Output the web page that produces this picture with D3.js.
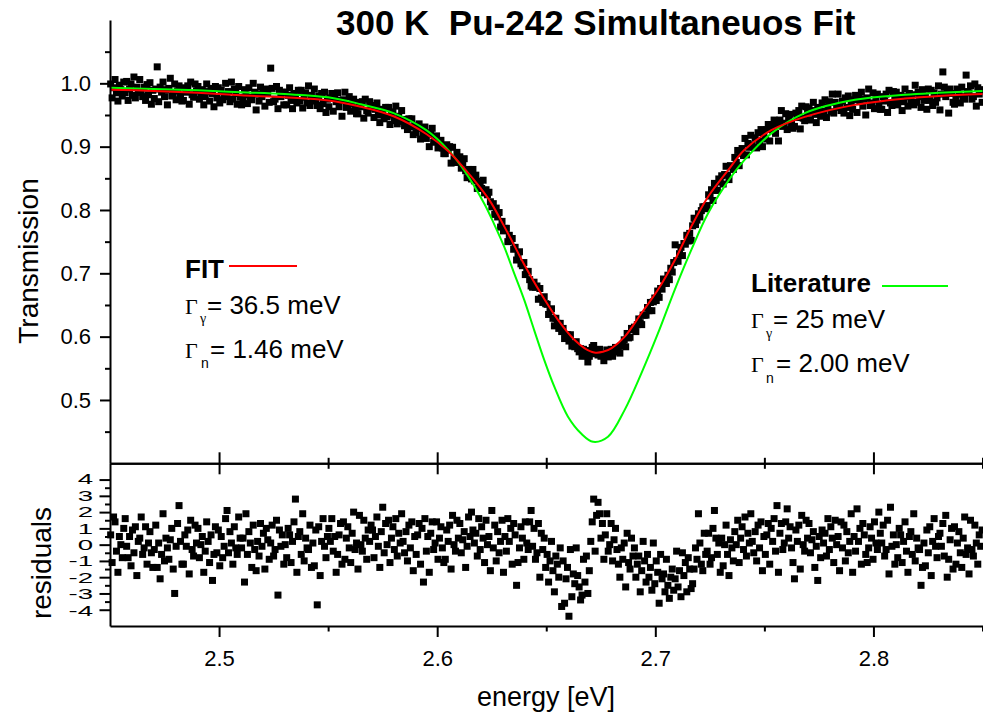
<!DOCTYPE html>
<html>
<head>
<meta charset="utf-8">
<script src="https://cdn.jsdelivr.net/npm/d3@7"></script>
<style>
  body { margin: 0; background: #fff; }
  svg { display: block; }
</style>
</head>
<body>
<script>
var width = 983;
var height = 716;

// axis ticks
var xTicks = [2.5, 2.6, 2.7, 2.8];
var xMinor = [2.55, 2.65, 2.75, 2.85];
var tTicks = [0.5, 0.6, 0.7, 0.8, 0.9, 1.0];
var tMinor = [0.45, 0.55, 0.65, 0.75, 0.85, 0.95, 1.05];
var rTicks = [4, 3, 2, 1, 0, -1, -2, -3, -4];
var rMinor = [3.5, 2.5, 1.5, 0.5, -0.5, -1.5, -2.5, -3.5];

// measured channels: energy grid start and step (eV)
var E0 = 2.4503;
var dE = 0.000667;

// measured transmission, one value per channel
var transmission = [
  0.999,0.977,0.993,1.006,0.985,0.972,0.997,0.990,0.980,1.002,
  0.985,1.003,0.973,0.991,0.999,0.981,1.010,0.977,0.994,0.986,
  1.006,0.986,0.979,0.994,0.973,0.998,0.982,1.001,0.967,0.989,
  0.976,0.991,1.026,0.971,0.994,0.986,1.002,0.979,0.990,0.966,
  0.992,1.008,0.980,0.984,0.999,0.974,0.988,0.996,0.981,0.972,
  0.973,0.993,0.986,0.996,0.967,1.002,0.982,0.978,0.999,0.988,
  0.995,0.975,0.984,0.990,0.966,0.979,0.999,0.987,0.972,0.992,
  0.984,0.963,0.995,0.977,0.993,0.969,0.989,0.974,0.981,1.000,
  0.979,0.987,0.971,1.002,0.975,0.991,0.984,0.967,0.995,0.978,
  0.966,0.975,0.990,0.982,0.968,0.993,0.978,0.974,1.000,0.986,
  0.958,0.983,0.972,0.994,0.979,0.987,0.964,0.991,0.984,0.970,
  1.024,0.992,0.971,0.975,0.995,0.960,0.989,0.979,0.986,0.966,
  0.986,0.966,0.981,0.993,0.973,0.960,0.984,0.978,0.969,0.989,
  0.972,0.989,0.961,0.978,0.985,0.969,0.996,0.965,0.981,0.973,
  0.991,0.972,0.965,0.980,0.960,0.984,0.968,0.986,0.954,0.975,
  0.963,0.977,0.984,0.956,0.979,0.971,0.985,0.963,0.973,0.948,
  0.974,0.986,0.962,0.965,0.979,0.956,0.968,0.975,0.961,0.952,
  0.952,0.970,0.963,0.971,0.945,0.975,0.957,0.953,0.971,0.961,
  0.965,0.946,0.959,0.969,0.950,0.938,0.959,0.953,0.944,0.962,
  0.947,0.962,0.935,0.950,0.955,0.941,0.964,0.936,0.948,0.941,
  0.957,0.940,0.933,0.943,0.927,0.944,0.931,0.944,0.919,0.933,
  0.922,0.932,0.936,0.912,0.929,0.922,0.931,0.913,0.922,0.900,
  0.920,0.929,0.907,0.909,0.917,0.898,0.906,0.910,0.898,0.889,
  0.889,0.903,0.895,0.900,0.874,0.899,0.881,0.875,0.891,0.879,
  0.884,0.866,0.874,0.881,0.862,0.851,0.864,0.856,0.849,0.864,
  0.846,0.855,0.834,0.842,0.845,0.834,0.847,0.827,0.832,0.824,
  0.828,0.813,0.805,0.810,0.793,0.803,0.789,0.796,0.773,0.782,
  0.767,0.771,0.771,0.750,0.760,0.751,0.755,0.738,0.741,0.721,
  0.730,0.734,0.715,0.712,0.717,0.698,0.703,0.703,0.690,0.680,
  0.678,0.686,0.678,0.680,0.659,0.676,0.661,0.654,0.663,0.652,
  0.651,0.635,0.641,0.644,0.629,0.617,0.629,0.621,0.613,0.621,
  0.608,0.613,0.597,0.602,0.603,0.593,0.603,0.585,0.589,0.584,
  0.592,0.581,0.576,0.581,0.569,0.580,0.570,0.578,0.560,0.569,
  0.577,0.583,0.586,0.573,0.575,0.571,0.580,0.569,0.573,0.562,
  0.571,0.579,0.568,0.571,0.580,0.569,0.577,0.583,0.578,0.576,
  0.574,0.586,0.587,0.595,0.584,0.605,0.598,0.599,0.613,0.611,
  0.615,0.608,0.619,0.628,0.622,0.619,0.634,0.634,0.634,0.646,
  0.641,0.654,0.641,0.655,0.661,0.657,0.672,0.662,0.676,0.675,
  0.691,0.684,0.684,0.697,0.690,0.708,0.702,0.717,0.745,0.720,
  0.719,0.731,0.741,0.728,0.747,0.746,0.760,0.751,0.763,0.752,
  0.775,0.787,0.777,0.784,0.794,0.789,0.799,0.805,0.805,0.802,
  0.807,0.824,0.822,0.832,0.815,0.842,0.831,0.831,0.849,0.844,
  0.854,0.841,0.856,0.869,0.855,0.848,0.870,0.868,0.864,0.883,
  0.875,0.894,0.870,0.889,0.897,0.886,0.913,0.887,0.905,0.899,
  0.918,0.903,0.899,0.914,0.898,0.922,0.909,0.927,0.900,0.921,
  0.912,0.927,0.935,0.909,0.933,0.926,0.942,0.921,0.933,0.909,
  0.942,0.957,0.932,0.937,0.952,0.927,0.942,0.951,0.936,0.929,
  0.932,0.953,0.946,0.957,0.928,0.964,0.945,0.941,0.963,0.953,
  0.961,0.942,0.957,0.970,0.951,0.938,0.962,0.956,0.948,0.969,
  0.956,0.974,0.946,0.963,0.971,0.955,0.983,0.953,0.970,0.962,
  0.983,0.964,0.957,0.972,0.953,0.977,0.962,0.980,0.949,0.970,
  0.959,0.974,0.981,0.954,0.978,0.971,0.986,0.964,0.975,0.950,
  0.977,0.991,0.965,0.969,0.985,0.960,0.974,0.983,0.967,0.959,
  0.959,0.979,0.972,0.983,0.954,0.989,0.969,0.965,0.987,0.976,
  0.986,0.966,0.975,0.981,0.957,0.971,0.991,0.979,0.964,0.984,
  0.974,0.982,0.966,0.997,0.970,0.986,0.979,0.962,0.990,0.973,
  0.980,0.959,0.991,0.973,0.989,0.965,0.985,0.970,0.977,0.996,
  0.958,0.983,1.018,0.994,0.979,0.987,0.953,0.991,0.984,0.970,
  0.967,0.976,0.991,0.983,0.969,0.994,0.979,0.975,1.013,0.987,
  0.985,0.996,0.975,0.979,0.999,0.964,0.993,0.983,0.990,0.970
];

// normalised residuals, same channels
var residuals = [
  0.6,-1.1,1.7,1.4,-0.4,-1.7,0.5,0.0,-0.8,1.0,
  1.6,-0.1,-0.8,0.5,-1.3,0.9,-0.5,1.1,-1.9,0.2,
  0.4,1.7,-0.6,-0.2,1.1,-1.2,0.1,0.8,-0.5,-1.4,
  -0.3,1.2,-1.4,0.1,-2.1,-0.6,1.9,-1.0,0.4,-0.2,
  -0.9,0.3,1.0,-1.5,-3.0,-0.1,1.3,2.4,0.2,-1.2,
  -1.2,0.6,-0.1,0.9,-1.8,1.5,-0.3,-0.7,1.2,0.1,
  1.0,-0.8,0.0,0.5,-1.7,-0.4,1.4,0.2,-1.1,0.6,
  -2.2,-0.6,1.1,-0.5,0.9,-1.3,0.5,-0.8,-0.1,1.6,
  2.1,-0.5,0.8,0.1,-1.2,1.1,-0.2,-0.6,1.7,0.4,
  -0.2,0.4,-2.3,1.9,-0.6,0.8,0.1,-1.4,1.2,-0.3,
  -1.6,0.2,-0.7,1.3,-0.1,0.7,-1.5,1.0,0.3,-0.9,
  0.1,1.2,-0.7,-0.3,1.5,-3.1,0.9,-0.1,0.6,-1.2,
  0.0,-0.8,1.0,0.6,-1.1,0.2,1.4,2.8,-1.7,0.5,
  0.8,-0.6,1.9,-1.0,0.4,-0.2,-0.3,1.2,-1.4,0.1,
  -1.3,0.9,-3.7,1.1,-1.9,0.2,1.6,-0.1,-0.8,0.5,
  1.0,0.2,1.6,-0.4,0.5,-1.7,-0.6,0.6,1.3,-1.2,
  1.4,-0.9,0.4,1.1,-0.2,-1.1,0.7,2.0,-0.3,0.1,
  -1.5,1.8,0.0,-0.4,1.5,0.4,-0.9,0.9,0.2,1.2,
  0.9,-0.8,0.5,1.7,-0.1,-1.4,0.8,2.3,-0.5,1.3,
  0.0,1.5,-1.1,0.4,1.1,-0.3,1.6,-0.7,0.7,0.1,
  1.9,0.2,-0.5,0.8,-1.0,1.2,-0.2,1.4,-1.6,0.5,
  -0.6,0.6,1.3,-1.2,1.0,-2.3,1.6,-0.4,0.5,-1.7,
  0.7,1.4,-0.3,0.1,1.4,-0.9,0.4,1.1,-0.2,-1.1,
  -0.9,0.9,0.2,1.2,-1.5,1.8,0.0,-0.4,1.5,0.4,
  1.3,-0.5,0.3,0.8,-1.4,-0.1,1.7,0.5,2.0,0.9,
  0.1,0.7,-0.7,1.6,-0.3,1.1,0.4,-1.1,1.5,0.0,
  0.5,-1.6,2.1,-0.2,1.2,-1.0,0.8,-0.5,0.2,1.5,
  -1.7,0.5,-0.4,1.6,0.2,1.0,-1.2,1.3,0.6,-2.5,
  -1.1,-0.2,1.1,0.4,-0.9,1.4,0.1,-0.3,1.4,2.1,
  -0.1,1.0,-0.9,-0.5,1.3,-2.0,0.7,-0.3,0.4,-1.4,
  -0.6,-2.3,-1.0,0.2,-1.6,-2.9,-0.7,-1.2,-2.0,-0.2,
  -3.8,-1.0,-3.6,-2.1,-1.4,-4.4,-0.3,-3.2,-1.8,-2.4,
  -0.2,-1.9,-2.6,-3.4,-3.1,-0.9,-2.3,-0.7,-3.0,-1.6,
  0.2,1.4,2.8,-0.4,1.8,2.6,1.9,0.4,1.3,-0.9,
  0.6,1.9,-0.4,0.0,1.3,-1.0,0.3,1.0,-0.3,-1.2,
  -2.0,-0.2,-0.9,0.1,-2.6,0.7,-1.1,-1.5,0.4,-0.7,
  -0.2,-2.0,-1.2,-0.7,-2.9,-1.6,0.2,-1.0,-2.3,-0.6,
  -2.0,-1.4,-2.8,0.1,-2.4,-1.0,-1.7,-3.6,-0.6,-2.1,
  -1.8,-2.9,-0.9,-2.5,-3.3,-2.0,-1.5,-2.8,-2.1,-0.4,
  -2.6,-1.6,-3.2,-0.5,-1.9,-1.1,-2.9,-0.8,-1.5,-2.7,
  -2.4,-1.5,-0.2,-0.9,1.9,0.1,-1.2,-1.6,0.7,-0.6,
  -0.4,0.7,-1.2,-0.8,1.0,2.1,0.4,-0.6,0.1,-1.7,
  0.4,-1.3,0.0,1.2,-0.6,-1.9,0.3,-0.2,-1.0,0.8,
  0.0,1.5,-1.1,0.4,1.1,-0.3,1.7,-0.7,0.7,0.1,
  1.9,0.2,-0.5,0.8,-1.0,1.2,-0.2,1.4,-1.6,0.5,
  -0.6,0.6,1.3,-1.2,1.0,0.2,1.6,-0.4,2.4,-1.7,
  0.7,1.3,-0.3,0.1,1.4,2.2,0.4,1.1,-0.2,-1.1,
  -2.1,0.9,0.2,1.2,-1.5,1.8,0.0,-0.4,1.5,0.4,
  1.3,-0.5,0.3,0.8,-1.4,-0.1,-2.2,0.5,-0.8,0.9,
  0.1,0.7,-0.7,1.6,-0.3,1.1,0.4,-1.1,1.5,0.0,
  0.5,-1.6,1.4,-0.2,1.2,-1.0,0.8,-0.5,0.2,1.9,
  -1.7,0.5,-0.4,2.2,0.2,1.0,-1.2,1.3,0.6,-0.6,
  -1.1,-0.2,1.1,0.4,-0.9,1.4,0.1,-0.3,2.0,0.7,
  0.1,1.2,-0.7,-0.3,1.5,-1.8,2.3,-0.1,0.6,-1.2,
  0.0,-0.8,1.0,0.6,-1.1,0.2,1.4,-0.4,-1.7,0.5,
  0.8,-0.6,1.9,-1.0,0.4,-0.2,-0.3,-2.5,-1.4,0.1,
  -1.3,0.9,-0.5,1.1,-1.9,0.2,1.6,-0.1,-0.8,0.5,
  0.7,-0.1,1.3,-0.7,1.8,-2.0,-0.9,0.3,1.0,-1.5,
  1.1,-1.2,0.1,0.8,-0.5,-1.4,0.4,1.7,-0.6,-0.2,
  -1.8,1.5,-0.3,-0.7,1.2,0.1,-1.2,0.6,-0.1,0.9
];

// fitted curve (red)
var fitE = [2.45, 2.47, 2.49, 2.51, 2.53, 2.55, 2.565, 2.58, 2.595, 2.605, 2.6123, 2.62,
  2.6246, 2.6323, 2.6399, 2.6476, 2.6553, 2.6629, 2.6675, 2.672, 2.676, 2.68, 2.686,
  2.6936, 2.7012, 2.709, 2.7165, 2.7242, 2.7334, 2.7409, 2.7532, 2.7685, 2.7915, 2.8144,
  2.83, 2.85];
var fitT = [0.990, 0.988, 0.985, 0.981, 0.978, 0.973, 0.963, 0.948, 0.920, 0.893, 0.866, 0.834,
  0.812, 0.764, 0.714, 0.668, 0.627, 0.595, 0.582, 0.575, 0.576, 0.582, 0.600,
  0.637, 0.674, 0.721, 0.774, 0.821, 0.863, 0.895, 0.926, 0.947, 0.966, 0.976,
  0.980, 0.983];

// literature parameters curve (green)
var litE = [2.45, 2.47, 2.49, 2.51, 2.53, 2.55, 2.565, 2.58, 2.595, 2.605, 2.6123, 2.6216,
  2.6262, 2.6307, 2.6353, 2.6399, 2.6445, 2.6491, 2.6537, 2.6599, 2.666, 2.6715, 2.6783,
  2.6859, 2.6936, 2.7012, 2.7089, 2.7165, 2.7242, 2.7349, 2.7409, 2.7532, 2.7685, 2.7915,
  2.8144, 2.83, 2.85];
var litT = [0.993, 0.991, 0.989, 0.986, 0.983, 0.978, 0.967, 0.953, 0.926, 0.895, 0.863, 0.810,
  0.777, 0.742, 0.700, 0.658, 0.610, 0.563, 0.521, 0.474, 0.447, 0.434, 0.442,
  0.484, 0.542, 0.605, 0.674, 0.737, 0.795, 0.853, 0.879, 0.921, 0.953, 0.974,
  0.982, 0.985, 0.988];

var sans = '"Liberation Sans", Arial, sans-serif';
var serif = '"Liberation Serif", "Times New Roman", serif';
var red = '#ff0000';
var green = '#00ff00';

var svg = d3.select('body').append('svg')
  .attr('width', width)
  .attr('height', height)
  .style('font-family', sans);

var x = d3.scaleLinear().domain([2.45, 2.85]).range([110, 982.5]);
var yT = d3.scaleLinear().domain([0.4, 1.1]).range([463.3, 20]);
var yR = d3.scaleLinear().domain([-5, 5]).range([626, 463.3]);

var channels = transmission.map(function (t, i) {
  return { e: E0 + i * dE, t: t, r: residuals[i] };
});

// styling helper for axes
function styleAxis(g, size) {
  g.selectAll('path, line').attr('stroke', '#000').attr('stroke-width', 2);
  g.selectAll('text').attr('font-family', sans).attr('font-size', size).attr('fill', '#000');
}

// ---- data marks ----
var sq = 7;
svg.append('g').selectAll('rect')
  .data(channels).enter().append('rect')
  .attr('x', function (d) { return x(d.e) - sq / 2; })
  .attr('y', function (d) { return yT(d.t) - sq / 2; })
  .attr('width', sq).attr('height', sq)
  .attr('fill', '#000');

svg.append('g').selectAll('rect')
  .data(channels).enter().append('rect')
  .attr('x', function (d) { return x(d.e) - sq / 2; })
  .attr('y', function (d) { return yR(d.r) - sq / 2; })
  .attr('width', sq).attr('height', sq)
  .attr('fill', '#000');

// ---- curves ----
var line = d3.line()
  .x(function (d) { return x(d[0]); })
  .y(function (d) { return yT(d[1]); })
  .curve(d3.curveCatmullRom.alpha(0.5));

svg.append('path')
  .datum(litE.map(function (e, i) { return [e, litT[i]]; }))
  .attr('d', line)
  .attr('fill', 'none').attr('stroke', green).attr('stroke-width', 2);

svg.append('path')
  .datum(fitE.map(function (e, i) { return [e, fitT[i]]; }))
  .attr('d', line)
  .attr('fill', 'none').attr('stroke', red).attr('stroke-width', 2);

// ---- axes ----
var gT = svg.append('g').attr('transform', 'translate(110,0)')
  .call(d3.axisLeft(yT).tickValues(tTicks).tickFormat(d3.format('.1f'))
    .tickSizeInner(10).tickSizeOuter(0).tickPadding(9));
styleAxis(gT, 22);
var gTm = svg.append('g').attr('transform', 'translate(110,0)')
  .call(d3.axisLeft(yT).tickValues(tMinor).tickFormat('').tickSize(5));
gTm.select('.domain').remove();
styleAxis(gTm, 22);

var gR = svg.append('g').attr('transform', 'translate(110,0)')
  .call(d3.axisLeft(yR).tickValues(rTicks).tickFormat('')
    .tickSizeInner(10.5).tickSizeOuter(0));
styleAxis(gR, 22);
var gRm = svg.append('g').attr('transform', 'translate(110,0)')
  .call(d3.axisLeft(yR).tickValues(rMinor).tickFormat('').tickSize(5));
gRm.select('.domain').remove();
styleAxis(gRm, 22);

// squeezed residual labels (crowded, as in the original)
svg.append('g').selectAll('text')
  .data(rTicks).enter().append('text')
  .attr('transform', function (d) { return 'translate(93,' + (yR(d) + 0.2 * -d) + ') scale(1.15,0.62)'; })
  .attr('dy', '0.36em')
  .attr('text-anchor', 'end')
  .attr('font-size', 24)
  .text(function (d) { return String(d); });

// shared boundary between panels, ticks both ways
[d3.axisBottom(x), d3.axisTop(x)].forEach(function (ax) {
  var g = svg.append('g').attr('transform', 'translate(0,463.3)')
    .call(ax.tickValues(xTicks).tickFormat('').tickSizeInner(11).tickSizeOuter(0));
  styleAxis(g, 22);
  var gm = svg.append('g').attr('transform', 'translate(0,463.3)')
    .call(ax.tickValues(xMinor).tickFormat('').tickSize(5.5));
  gm.select('.domain').remove();
  styleAxis(gm, 22);
});

var gB = svg.append('g').attr('transform', 'translate(0,626)')
  .call(d3.axisBottom(x).tickValues(xTicks).tickFormat(d3.format('.1f'))
    .tickSizeInner(11).tickSizeOuter(0).tickPadding(13));
styleAxis(gB, 22);
var gBm = svg.append('g').attr('transform', 'translate(0,626)')
  .call(d3.axisBottom(x).tickValues(xMinor).tickFormat('').tickSize(5.5));
gBm.select('.domain').remove();
styleAxis(gBm, 22);

// ---- titles ----
svg.append('text')
  .attr('x', 336).attr('y', 35)
  .attr('font-size', 35).attr('font-weight', 'bold')
  .attr('xml:space', 'preserve')
  .text('300 K  Pu-242 Simultaneuos Fit');

svg.append('text')
  .attr('transform', 'translate(38,261) rotate(-90)')
  .attr('text-anchor', 'middle').attr('font-size', 28)
  .text('Transmission');

svg.append('text')
  .attr('transform', 'translate(51,563) rotate(-90)')
  .attr('text-anchor', 'middle').attr('font-size', 28)
  .text('residuals');

svg.append('text')
  .attr('x', 546).attr('y', 706)
  .attr('text-anchor', 'middle').attr('font-size', 27)
  .text('energy [eV]');

// ---- annotations ----
function gammaLine(x0, base, sub, subX, subBase, rest, restX) {
  svg.append('text').attr('x', x0).attr('y', base)
    .attr('font-family', serif).attr('font-size', 22).text('\u0393');
  svg.append('text').attr('x', subX).attr('y', subBase)
    .attr('font-family', sub === '\u03b3' ? serif : sans).attr('font-size', 14).text(sub);
  svg.append('text').attr('x', restX).attr('y', base)
    .attr('font-size', 26).text(rest);
}

svg.append('text').attr('x', 185).attr('y', 278)
  .attr('font-size', 26).attr('font-weight', 'bold').text('FIT');
svg.append('line').attr('x1', 229).attr('x2', 297).attr('y1', 266).attr('y2', 266)
  .attr('stroke', red).attr('stroke-width', 2);
gammaLine(185, 314, '\u03b3', 200, 323, '= 36.5 meV', 207);
gammaLine(185, 358, 'n', 201, 368, '= 1.46 meV', 210);

svg.append('text').attr('x', 751).attr('y', 292)
  .attr('font-size', 26).attr('font-weight', 'bold').text('Literature');
svg.append('line').attr('x1', 882).attr('x2', 948).attr('y1', 286).attr('y2', 286)
  .attr('stroke', green).attr('stroke-width', 2);
gammaLine(751, 328, '\u03b3', 766, 338, '= 25 meV', 773);
gammaLine(751, 372, 'n', 766, 383, '= 2.00 meV', 776);
</script>
</body>
</html>
